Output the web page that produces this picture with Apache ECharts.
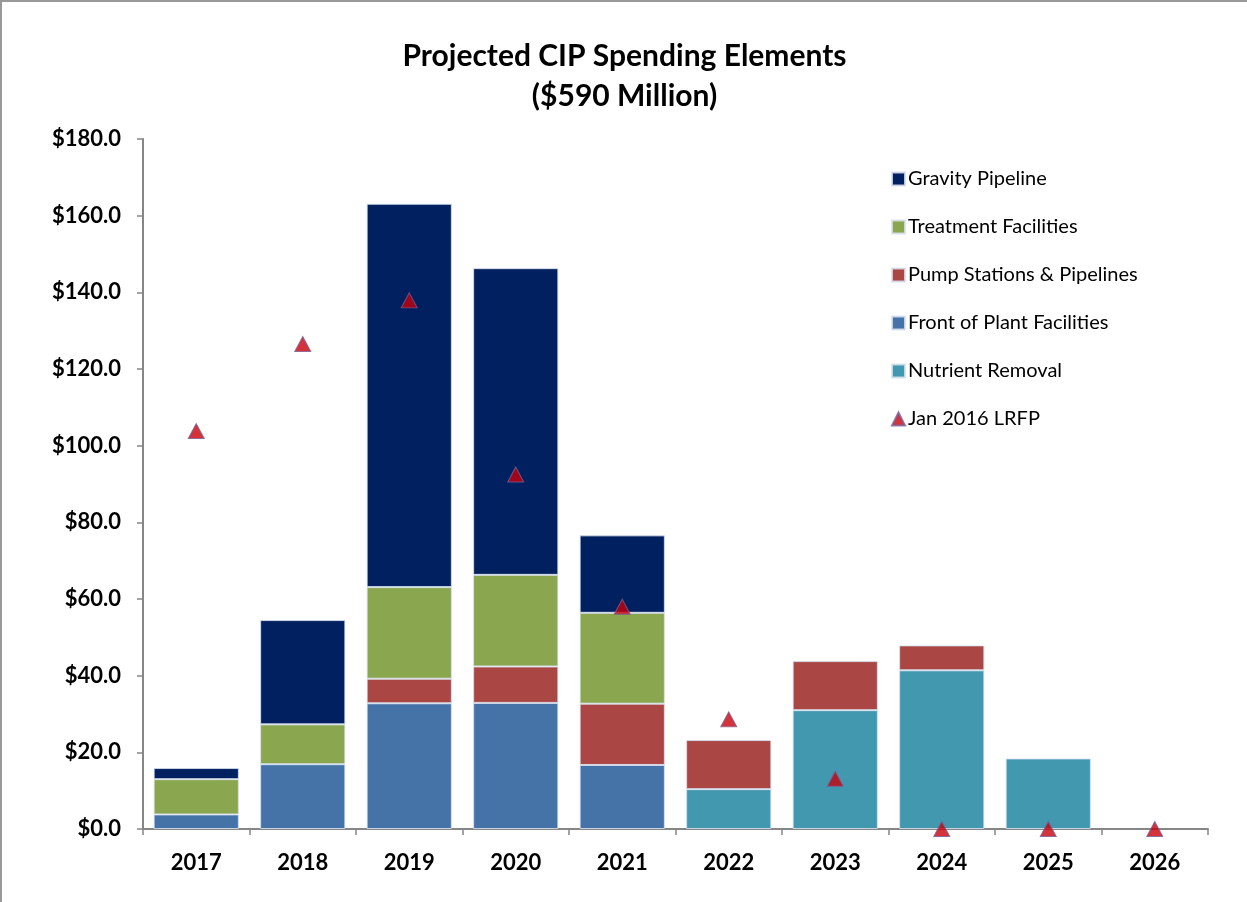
<!DOCTYPE html>
<html>
<head>
<meta charset="utf-8">
<title>Projected CIP Spending Elements</title>
<script src="https://cdn.jsdelivr.net/npm/echarts@6/dist/echarts.min.js"></script>
<style>
  html, body { margin: 0; padding: 0; background: #fff; }
  #chart {
    width: 1247px; height: 902px; box-sizing: border-box;
    border-left: 2px solid #999; border-top: 2px solid #999;
  }
</style>
</head>
<body>
<div id="chart"></div>
<script>
// Fiscal years on the category axis
const years = ['2017', '2018', '2019', '2020', '2021', '2022', '2023', '2024', '2025', '2026'];

// Spending by element, $ million
const nutrientRemoval   = [0, 0, 0, 0, 0, 10.4, 31.0, 41.4, 18.4, 0];
const frontOfPlant      = [3.8, 16.9, 32.8, 32.9, 16.7, 0, 0, 0, 0, 0];
const pumpStations      = [0, 0, 6.4, 9.5, 16.0, 12.8, 12.8, 6.5, 0, 0];
const treatmentFacil    = [9.2, 10.4, 23.9, 23.9, 23.7, 0, 0, 0, 0, 0];
const gravityPipeline   = [2.9, 27.2, 100.0, 80.0, 20.2, 0, 0, 0, 0, 0];

// Jan 2016 long-range financial plan, $ million
const lrfp = [103.8, 126.5, 137.9, 92.5, 58.0, 28.6, 13.1, 0, 0, 0];

// Value axis tick labels
const yTicks = ['$0.0', '$20.0', '$40.0', '$60.0', '$80.0', '$100.0', '$120.0', '$140.0', '$160.0', '$180.0'];

const FONT = 'Lato, "Open Sans", sans-serif';
const AXIS_GREY = '#868686';

// Empty stack segments are left out so they draw no sliver at the baseline
function barSeries(name, data, color) {
  return {
    name: name,
    type: 'bar',
    stack: 'cip',
    barWidth: '80%',
    data: data.map(function (v) { return v === 0 ? null : v; }),
    itemStyle: { color: color, borderColor: 'rgba(215,225,238,0.85)', borderWidth: 1 },
    emphasis: { disabled: true }
  };
}

const chart = echarts.init(document.getElementById('chart'), null, { renderer: 'canvas' });

chart.setOption({
  animation: false,
  backgroundColor: '#fff',
  title: {
    text: 'Projected CIP Spending Elements\n($590 Million)',
    left: 'center',
    top: 29,
    textStyle: { fontFamily: FONT, fontWeight: 'bold', fontSize: 30, lineHeight: 40, color: '#000' }
  },
  grid: { left: 141, right: 39, top: 137, bottom: 73, containLabel: false },
  legend: {
    orient: 'vertical',
    left: 884,
    top: 160,
    itemGap: 24,
    itemWidth: 13,
    itemHeight: 13,
    icon: 'rect',
    textStyle: { fontFamily: FONT, fontSize: 20, lineHeight: 24, color: '#000', padding: [0, 0, 0, -2] },
    data: [
      { name: 'Gravity Pipeline' },
      { name: 'Treatment Facilities' },
      { name: 'Pump Stations & Pipelines' },
      { name: 'Front of Plant Facilities' },
      { name: 'Nutrient Removal' },
      { name: 'Jan 2016 LRFP', icon: 'triangle' }
    ]
  },
  xAxis: {
    type: 'category',
    data: years,
    axisLine: { lineStyle: { color: AXIS_GREY, width: 2 } },
    axisTick: { show: true, alignWithLabel: false, length: 6, lineStyle: { color: AXIS_GREY, width: 1.5 } },
    axisLabel: { fontFamily: FONT, fontWeight: 'bold', fontSize: 22, color: '#000', margin: 23 }
  },
  yAxis: {
    type: 'value',
    min: 0,
    max: 180,
    interval: 20,
    axisLine: { show: true, lineStyle: { color: AXIS_GREY, width: 2 } },
    axisTick: { show: true, length: 6, lineStyle: { color: AXIS_GREY, width: 1.5 } },
    splitLine: { show: false },
    axisLabel: {
      fontFamily: FONT, fontWeight: 'bold', fontSize: 22, color: '#000', margin: 22,
      formatter: function (v) { return yTicks[Math.round(v / 20)]; }
    }
  },
  series: [
    barSeries('Nutrient Removal', nutrientRemoval, '#4298AF'),
    barSeries('Front of Plant Facilities', frontOfPlant, '#4573A7'),
    barSeries('Pump Stations & Pipelines', pumpStations, '#AA4745'),
    barSeries('Treatment Facilities', treatmentFacil, '#8AA64E'),
    barSeries('Gravity Pipeline', gravityPipeline, '#00205F'),
    {
      name: 'Jan 2016 LRFP',
      type: 'scatter',
      data: lrfp,
      symbol: 'triangle',
      symbolSize: [16, 15],
      z: 5,
      itemStyle: { color: '#C8000A', borderColor: '#7B5F93', borderWidth: 1 },
      emphasis: { disabled: true }
    }
  ]
});
</script>
</body>
</html>
